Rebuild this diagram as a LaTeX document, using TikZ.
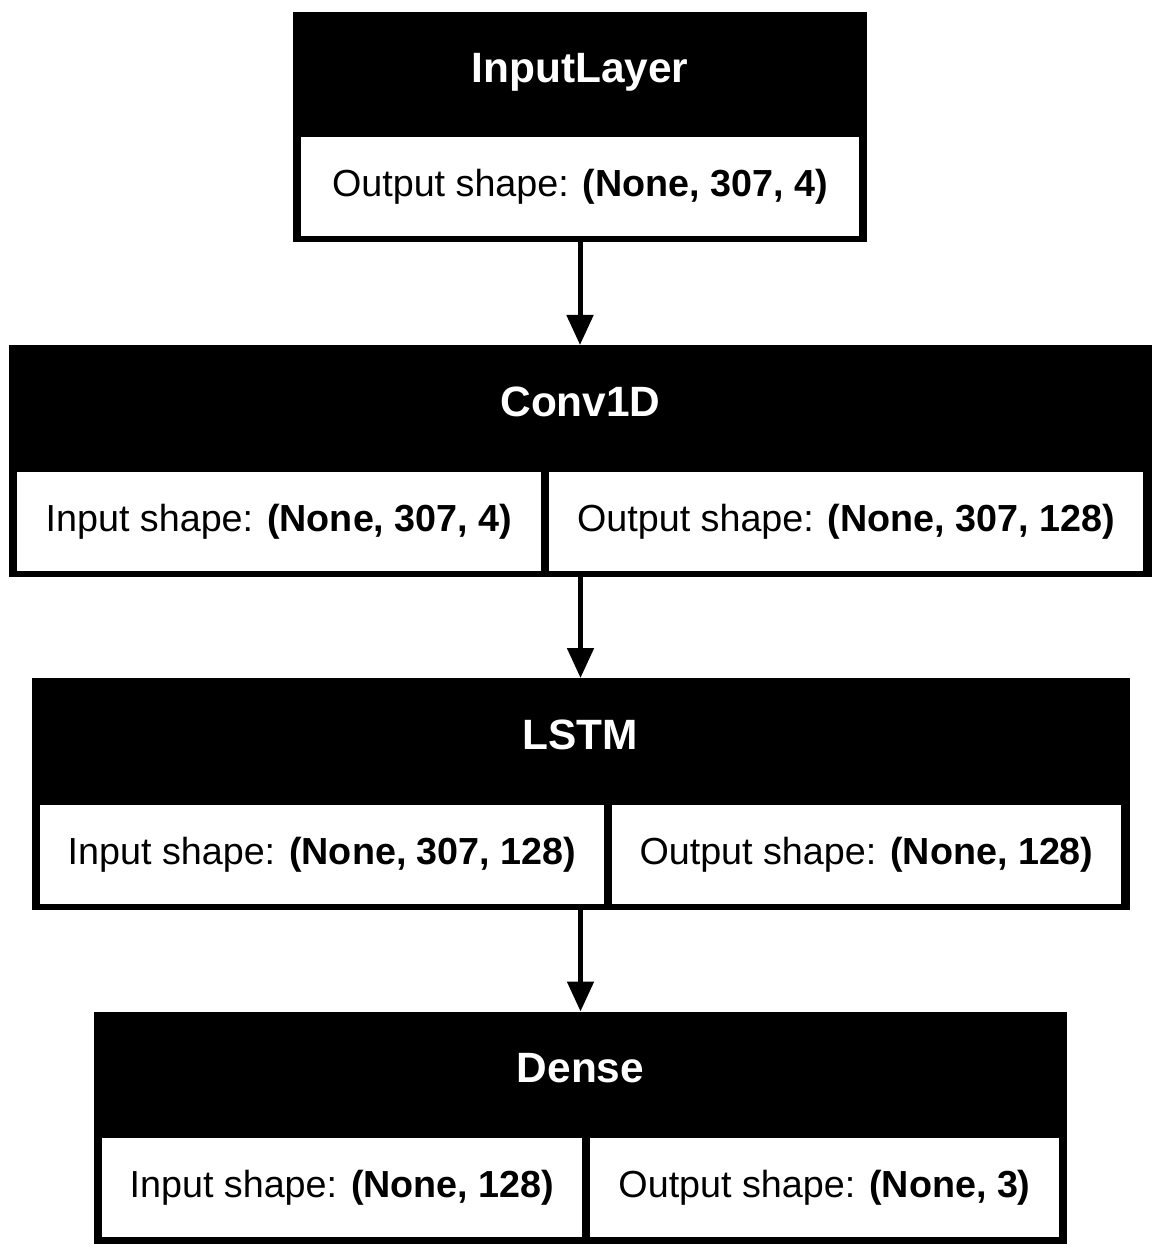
\documentclass[tikz,border=0pt]{standalone}
\usepackage{fontspec}
\setmainfont{Liberation Sans}
\usepackage{tikz}
\usetikzlibrary{arrows.meta, positioning}
\tikzset{
  layerbox/.style={fill=black,inner sep=0pt,outer sep=0pt,minimum height=116pt},
  layertitle/.style={text=white,anchor=base,inner sep=0pt,font=\fontsize{21.2}{25}\selectfont\bfseries},
  shapecell/.style={fill=white,inner sep=0pt,outer sep=0pt,minimum height=49.5pt,text height=13pt,text depth=3pt,font=\fontsize{18.85}{22}\selectfont},
  flow/.style={-{Triangle[length=15pt,width=13pt]},line width=2.5pt}
}

\begin{document}
\begin{tikzpicture}[x=0.5pt,y=-0.5pt]
  \useasboundingbox (0,0) rectangle (1161,1256);

  % InputLayer
  \node[layerbox,minimum width=287pt,minimum height=115pt] (inp) at (580,127) {};
  \node[layertitle] (inptitle) at (580,83) {InputLayer};
  \node[shapecell,minimum width=279pt] (inpout) at (580,187) {Output shape: \textbf{(None, 307, 4)}};

  % Conv1D
  \node[layerbox,minimum width=571.5pt] (conv) at (580.5,461) {};
  \node[layertitle] (convtitle) at (580.5,416) {Conv1D};
  \node[shapecell,minimum width=262pt] (convin) at (279,521) {Input shape: \textbf{(None, 307, 4)}};
  \node[shapecell,minimum width=297pt] (convout) at (846,521) {Output shape: \textbf{(None, 307, 128)}};

  % LSTM
  \node[layerbox,minimum width=549pt] (lstm) at (580.5,794) {};
  \node[layertitle] (lstmtitle) at (580.5,749) {LSTM};
  \node[shapecell,minimum width=282pt] (lstmin) at (322,854) {Input shape: \textbf{(None, 307, 128)}};
  \node[shapecell,minimum width=254.5pt] (lstmout) at (866.5,854) {Output shape: \textbf{(None, 128)}};

  % Dense
  \node[layerbox,minimum width=486.5pt] (dense) at (580.5,1127.5) {};
  \node[layertitle] (densetitle) at (580.5,1082) {Dense};
  \node[shapecell,minimum width=240pt] (densein) at (342,1187) {Input shape: \textbf{(None, 128)}};
  \node[shapecell,minimum width=234.5pt] (denseout) at (824.5,1187) {Output shape: \textbf{(None, 3)}};

  % arrows
  \draw[flow] (inp.south) -- (inp.south |- conv.north);
  \draw[flow] (conv.south) -- (lstm.north);
  \draw[flow] (lstm.south) -- (dense.north);
\end{tikzpicture}
\end{document}
